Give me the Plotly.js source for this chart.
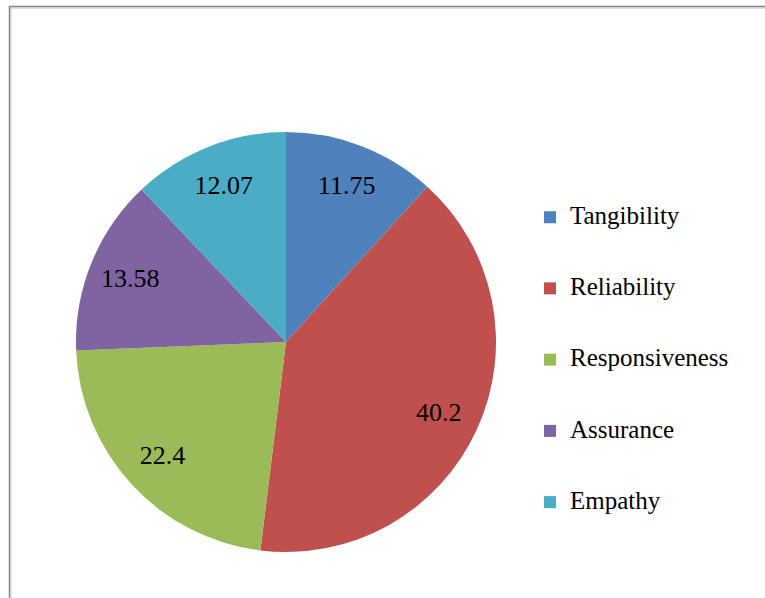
<!DOCTYPE html>
<html>
<head>
<meta charset="utf-8">
<script src="https://cdn.plot.ly/plotly-3.0.1.min.js"></script>
<style>
  html, body { margin: 0; padding: 0; background: #ffffff; }
  #chart { width: 765px; height: 598px; }
</style>
</head>
<body>
<div id="chart"></div>
<script>
// Service-quality dimensions and their shares
const categories = ['Tangibility', 'Reliability', 'Responsiveness', 'Assurance', 'Empathy'];
const shares = [11.75, 40.2, 22.4, 13.58, 12.07];
const sliceColors = ['#4F81BD', '#C0504D', '#9BBB59', '#8064A2', '#4BACC6'];

const W = 765, H = 598;
const px = x => x / W;          // pixel -> paper x
const py = y => 1 - y / H;      // pixel -> paper y

const serif = 'Liberation Serif, Times New Roman, serif';
const pieDomain = { x: [px(76), px(496)], y: [py(552), py(132)] };

// Legend entries: the label sits on the middle of three lines so that
// every entry gets the tall spacing of the legend while staying centred on its swatch
const legendLabels = categories.map(c => '<br><span style="font-size:25px">' + c + '</span><br>');

// Coloured slices
const slices = {
  type: 'pie',
  labels: legendLabels,
  values: shares,
  sort: false,
  direction: 'clockwise',
  rotation: 0,
  marker: { colors: sliceColors, line: { width: 0 } },
  textinfo: 'none',
  hoverinfo: 'none',
  domain: pieDomain
};

// Transparent ring over the same pie: its slice texts land in the outer band,
// where the value labels sit
const valueLabels = {
  type: 'pie',
  labels: categories,
  values: shares,
  sort: false,
  direction: 'clockwise',
  rotation: 0,
  hole: 0.6,
  showlegend: false,
  marker: { colors: categories.map(() => 'rgba(0,0,0,0)'), line: { width: 0 } },
  texttemplate: '%{value}',
  textposition: 'inside',
  insidetextorientation: 'horizontal',
  textfont: { family: serif, size: 26, color: '#000000' },
  insidetextfont: { family: serif, size: 26, color: '#000000' },
  hoverinfo: 'none',
  domain: pieDomain
};

const layout = {
  width: W,
  height: H,
  margin: { l: 0, r: 0, t: 0, b: 0 },
  paper_bgcolor: '#ffffff',
  showlegend: true,
  legend: {
    x: px(530), y: py(176.5), xanchor: 'left', yanchor: 'top',
    font: { family: serif, size: 17.5, color: '#000000' },
    bgcolor: 'rgba(0,0,0,0)', borderwidth: 0, traceorder: 'normal'
  },
  shapes: [
    // chart-area frame (runs off the right and bottom edges)
    { type: 'rect', xref: 'paper', yref: 'paper', x0: px(9.5), x1: 1.2, y0: -0.2, y1: py(6.5),
      line: { color: '#858585', width: 1.5 }, fillcolor: 'rgba(0,0,0,0)', layer: 'above' },
    { type: 'rect', xref: 'paper', yref: 'paper', x0: px(11), x1: 1.2, y0: -0.2, y1: py(8),
      line: { color: '#c4c4c4', width: 1 }, fillcolor: 'rgba(0,0,0,0)', layer: 'above' }
  ]
};

Plotly.newPlot('chart', [slices, valueLabels], layout, { staticPlot: true, displayModeBar: false });
</script>
</body>
</html>
